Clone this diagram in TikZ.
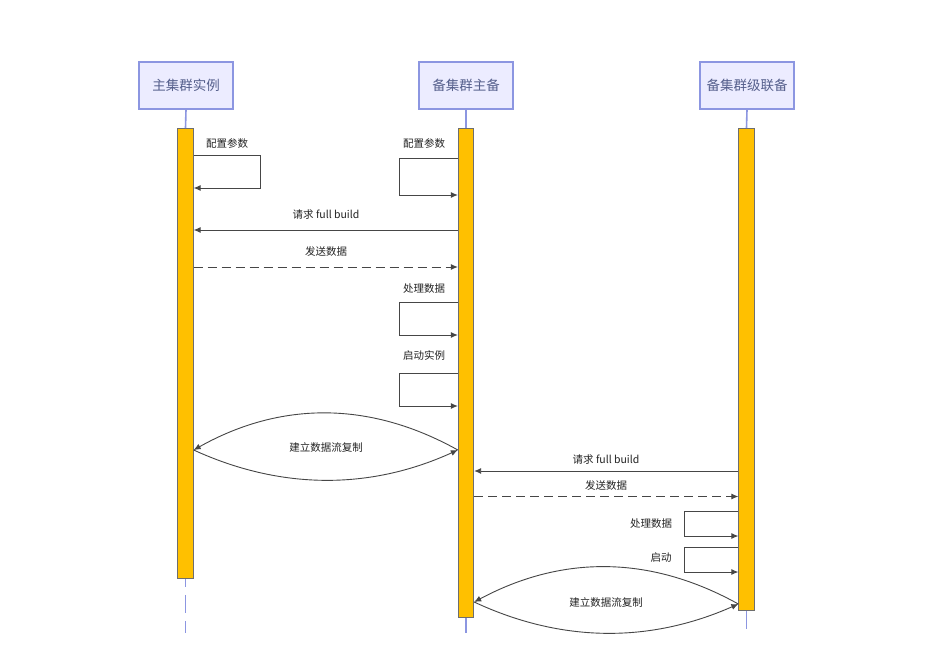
\documentclass[tikz,border=0pt]{standalone}
\usepackage{fontspec}
\setmainfont{Noto Sans CJK SC}
\usetikzlibrary{arrows.meta}
\definecolor{hdrfill}{RGB}{236,236,255}
\definecolor{hdrline}{RGB}{140,150,225}
\definecolor{hdrtext}{RGB}{85,95,140}
\definecolor{actfill}{RGB}{255,192,0}
\definecolor{actline}{RGB}{110,110,110}
\definecolor{msgline}{RGB}{70,70,70}
\definecolor{msgtext}{RGB}{35,35,35}
\tikzset{
  hdr/.style={draw=hdrline, line width=1.3pt, fill=hdrfill, text=hdrtext,
    minimum width=94pt, minimum height=47pt, inner sep=0pt, font=\fontsize{13.5pt}{15pt}\selectfont},
  actbar/.style={draw=actline, line width=0.8pt, fill=actfill, minimum width=15.5pt, inner sep=0pt, anchor=north},
  life/.style={draw=hdrline, line width=1.6pt},
  lifedash/.style={life, dash pattern=on 18pt off 8pt, dash phase=10pt},
  msg/.style={draw=msgline, line width=0.9pt, -{Latex[length=7pt,width=6pt]}},
  msgdash/.style={msg, dash pattern=on 9pt off 5pt},
  lbl/.style={text=msgtext, font=\fontsize{10.5pt}{12pt}\selectfont, inner sep=0pt}
}
\begin{document}
\begin{tikzpicture}[x=1pt,y=-1pt]
\useasboundingbox[fill=white] (0,0) rectangle (940,665);
% headers
\node[hdr] (h1) at (186,85.5) {主集群实例};
\node[hdr] (h2) at (466,85.5) {备集群主备};
\node[hdr] (h3) at (747,85.5) {备集群级联备};
% activation bars
\node[actbar, minimum height=450pt] (a1) at (185.5,128) {};
\node[actbar, minimum height=489pt] (a2) at (466,128) {};
\node[actbar, minimum height=482pt] (a3) at (746.5,128) {};
% lifelines
\draw[life] (h1.south) -- (a1.north);
\draw[life] (h2.south) -- (a2.north);
\draw[life] (h3.south) -- (a3.north);
\coordinate (e1) at (185.5,633);
\coordinate (e2) at (466,633);
\coordinate (e3) at (746.5,629);
\draw[lifedash] (a1.south) -- (e1);
\draw[life, dash pattern=on 18pt off 8pt] (a2.south) -- (e2);
\draw[life, dash pattern=on 18pt off 8pt] (a3.south) -- (e3);
% 1 self loop on a1
\node[lbl] (l1) at (227,143) {配置参数};
\draw[msg] (a1.east |- 0,155) -- (260,155) -- (260,188) -- (a1.east |- 0,188);
% 2 self loop on a2
\node[lbl] (l2) at (424,143) {配置参数};
\draw[msg] (a2.west |- 0,158) -- (399,158) -- (399,195) -- (a2.west |- 0,195);
% 3 request full build
\node[lbl] (l3) at (326,215) {请求 full build};
\draw[msg] (a2.west |- 0,230) -- (a1.east |- 0,230);
% 4 send data
\node[lbl] (l4) at (326,251) {发送数据};
\draw[msgdash] (a1.east |- 0,267) -- (a2.west |- 0,267);
% 5 process
\node[lbl] (l5) at (424,289) {处理数据};
\draw[msg] (a2.west |- 0,302) -- (399,302) -- (399,335) -- (a2.west |- 0,335);
% 6 start instance
\node[lbl] (l6) at (424,355) {启动实例};
\draw[msg] (a2.west |- 0,373) -- (399,373) -- (399,406) -- (a2.west |- 0,406);
% 7 replication lens
\node[lbl] (l7) at (326,447) {建立数据流复制};
\draw[msg] (a2.west |- 0,450) .. controls (370,401) and (281,401) .. (a1.east |- 0,450);
\draw[msg] (a1.east |- 0,450) .. controls (281,490) and (370,490) .. (a2.west |- 0,450);
% 8 request full build 2
\node[lbl] (l8) at (606,460) {请求 full build};
\draw[msg] (a3.west |- 0,471) -- (a2.east |- 0,471);
% 9 send data 2
\node[lbl] (l9) at (606,485) {发送数据};
\draw[msgdash] (a2.east |- 0,496.5) -- (a3.west |- 0,496.5);
% 10 process 2
\node[lbl] (l10) at (651,524) {处理数据};
\draw[msg] (a3.west |- 0,511) -- (684,511) -- (684,536) -- (a3.west |- 0,536);
% 11 start 2
\node[lbl] (l11) at (661,558) {启动};
\draw[msg] (a3.west |- 0,547) -- (684,547) -- (684,572) -- (a3.west |- 0,572);
% 12 replication lens 2
\node[lbl] (l12) at (606,602) {建立数据流复制};
\draw[msg] (a3.west |- 0,604) .. controls (650,555) and (562,555) .. (a2.east |- 0,602);
\draw[msg] (a2.east |- 0,602) .. controls (562,643) and (650,643) .. (a3.west |- 0,604);
\end{tikzpicture}
\end{document}
